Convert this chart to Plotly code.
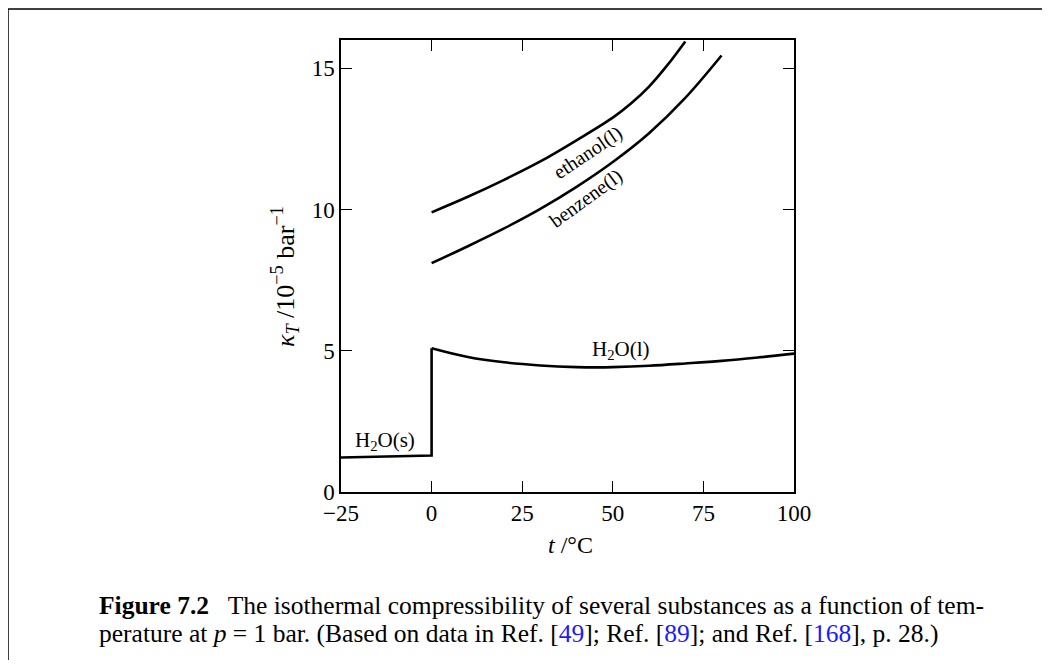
import plotly.graph_objects as go

# ---- data ----
ice_t = [-25, 0]
ice_k = [1.22, 1.29]

water_t = [0, 10, 20, 30, 40, 46, 50, 60, 70, 80, 90, 100]
water_k = [5.09, 4.78, 4.59, 4.48, 4.42, 4.41, 4.42, 4.47, 4.55, 4.64, 4.76, 4.90]

ethanol_t = [0, 10, 20, 30, 40, 50, 55, 60, 65, 70]
ethanol_k = [9.9, 10.45, 11.05, 11.7, 12.45, 13.25, 13.75, 14.35, 15.1, 15.95]

benzene_t = [0, 10, 20, 30, 40, 50, 60, 70, 80]
benzene_k = [8.1, 8.7, 9.33, 10.02, 10.8, 11.68, 12.7, 13.95, 15.45]

x_ticks = [-25, 0, 25, 50, 75, 100]
y_ticks = [0, 5, 10, 15]

FONT = "Liberation Serif"
OFF = 8                      # page body margin
W, H = 1050 - 2 * OFF, 668 - 2 * OFF
L, R, T, B = 341, 794, 40, 492  # plot frame in reference px


def px(xp):
    return (xp - L) / (R - L)


def py(yp):
    return (B - yp) / (B - T)


fig = go.Figure()
line = dict(color="black", width=2.6)
fig.add_trace(go.Scatter(x=ice_t + [water_t[0]], y=ice_k + [water_k[0]], mode="lines",
                         line=line, showlegend=False, hoverinfo="skip"))
fig.add_trace(go.Scatter(x=water_t, y=water_k, mode="lines", line_shape="spline",
                         line=line, showlegend=False, hoverinfo="skip"))
fig.add_trace(go.Scatter(x=ethanol_t, y=ethanol_k, mode="lines", line_shape="spline",
                         line=line, showlegend=False, hoverinfo="skip"))
fig.add_trace(go.Scatter(x=benzene_t, y=benzene_k, mode="lines", line_shape="spline",
                         line=line, showlegend=False, hoverinfo="skip"))

lbl = dict(family=FONT, size=20, color="black")
fig.add_annotation(x=43.2, y=12.02, text="ethanol(l)", textangle=-34, showarrow=False,
                   font=lbl, xanchor="center", yanchor="middle")
fig.add_annotation(x=42.6, y=10.38, text="benzene(l)", textangle=-36, showarrow=False,
                   font=lbl, xanchor="center", yanchor="middle")
hl = dict(family=FONT, size=21, color="black")
fig.add_annotation(x=52.2, y=5.03, text="H<sub>2</sub>O(l)", showarrow=False, font=hl,
                   xanchor="center", yanchor="middle")
fig.add_annotation(x=-12.9, y=1.81, text="H<sub>2</sub>O(s)", showarrow=False, font=hl,
                   xanchor="center", yanchor="middle")

# axis titles
fig.add_annotation(xref="paper", yref="paper", x=px(285), y=py(277), textangle=-90,
                   xanchor="center", yanchor="middle",
                   text="<i>κ</i><sub><i>T</i></sub> /10<sup>−5</sup> bar<sup>−1</sup>",
                   showarrow=False, font=dict(family=FONT, size=26, color="black"))
fig.add_annotation(xref="paper", yref="paper", x=px(570), y=py(545),
                   xanchor="center", yanchor="middle",
                   text="<i>t</i> /°C", showarrow=False,
                   font=dict(family=FONT, size=24, color="black"))

# caption
cap = dict(family=FONT, size=25.5, color="black")
blue = "#1a1aff"
fig.add_annotation(xref="paper", yref="paper", x=px(97), y=py(605), xanchor="left", yanchor="middle",
                   text="<b>Figure 7.2</b>   The isothermal compressibility of several substances as a function of tem-",
                   showarrow=False, font=cap)
fig.add_annotation(xref="paper", yref="paper", x=px(97), y=py(633), xanchor="left", yanchor="middle",
                   text=("perature at <i>p</i> = 1 bar. (Based on data in Ref. [<span style='color:%s'>49</span>]; "
                         "Ref. [<span style='color:%s'>89</span>]; and Ref. [<span style='color:%s'>168</span>], p. 28.)")
                   % (blue, blue, blue),
                   showarrow=False, font=cap)

# frame border lines (top and left)
fig.add_shape(type="line", xref="paper", yref="paper", x0=px(8), x1=px(1060), y0=py(9), y1=py(9),
              line=dict(color="black", width=1.5))
fig.add_shape(type="line", xref="paper", yref="paper", x0=px(8), x1=px(8), y0=py(9), y1=py(680),
              line=dict(color="black", width=1.5))

axis_common = dict(showline=True, linecolor="black", linewidth=1.5, mirror="ticks",
                   ticks="inside", ticklen=11, tickwidth=1.3, tickcolor="black",
                   showgrid=False, zeroline=False,
                   tickfont=dict(family=FONT, size=23, color="black"))
fig.update_xaxes(range=[-25, 100], tickvals=x_ticks,
                 ticktext=[("−%d" % -v) if v < 0 else str(v) for v in x_ticks], **axis_common)
fig.update_yaxes(range=[0, 16], tickvals=y_ticks, **axis_common)

fig.update_layout(width=W, height=H, plot_bgcolor="white", paper_bgcolor="white",
                  margin=dict(l=L - OFF, r=(W + OFF) - R, t=T - OFF, b=(H + OFF) - B),
                  showlegend=False, font=dict(family=FONT))

fig.write_html("out.html")
